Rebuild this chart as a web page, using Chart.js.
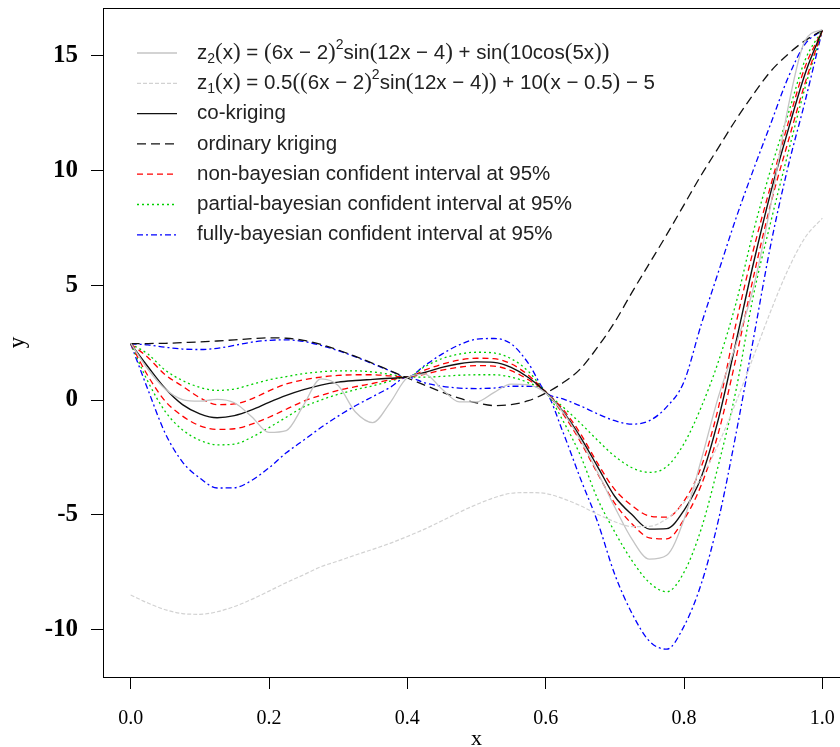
<!DOCTYPE html>
<html>
<head>
<meta charset="utf-8">
<script src="https://cdn.jsdelivr.net/npm/chart.js@4.4.1/dist/chart.umd.min.js"></script>
<style>
  html, body { margin: 0; padding: 0; background: #fff; overflow: hidden; }
  #wrap { width: 860px; height: 747px; }
</style>
</head>
<body>
<div id="wrap"><canvas id="chart" width="860" height="747"></canvas></div>
<script>
// x positions shared by every curve
const xs = [0, 0.025, 0.05, 0.075, 0.1, 0.125, 0.15, 0.175, 0.2, 0.225,
            0.25, 0.275, 0.3, 0.325, 0.35, 0.375, 0.4, 0.425, 0.45, 0.475,
            0.5, 0.525, 0.55, 0.575, 0.6, 0.625, 0.65, 0.675, 0.7, 0.725,
            0.75, 0.775, 0.8, 0.825, 0.85, 0.875, 0.9, 0.925, 0.95, 0.975, 1];

const z2 = [2.48, 1.34, 0.48, 0.02, -0.05, 0.03, -0.12, -0.73, -1.41, -1.33,
            -0.22, 0.92, 0.63, -0.52, -0.98, -0.12, 0.97, 1.13, 0.48, -0.08,
            -0.08, 0.32, 0.69, 0.66, 0.31, -0.53, -1.72, -3.14, -4.67, -6.07,
            -6.93, -6.76, -5.2, -2.6, 0.17, 2.4, 4.85, 8.43, 12.67, 15.65, 16.13];

const z1 = [-8.49, -8.84, -9.13, -9.3, -9.33, -9.22, -8.99, -8.68, -8.32, -7.95,
            -7.61, -7.26, -7.01, -6.75, -6.5, -6.24, -5.94, -5.62, -5.26, -4.89,
            -4.55, -4.26, -4.06, -4.03, -4.07, -4.29, -4.6, -4.97, -5.3, -5.51,
            -5.5, -5.17, -4.47, -3.38, -1.9, -0.11, 1.86, 3.84, 5.65, 7.07, 7.92];

const coKriging = [2.45, 1.45, 0.5, -0.2, -0.6, -0.77, -0.68, -0.43, -0.1, 0.2,
                   0.45, 0.65, 0.78, 0.85, 0.9, 0.95, 1.0, 1.2, 1.42, 1.58,
                   1.66, 1.64, 1.42, 0.98, 0.35, -0.5, -1.6, -2.9, -4.2, -5.0,
                   -5.62, -5.6, -4.8, -3.35, -0.8, 2.5, 5.9, 9.0, 11.7, 14.2, 16.1];

const ordKriging = [2.45, 2.46, 2.47, 2.5, 2.53, 2.57, 2.62, 2.67, 2.71, 2.69,
                    2.6, 2.42, 2.18, 1.9, 1.6, 1.28, 0.96, 0.65, 0.35, 0.08,
                    -0.12, -0.24, -0.2, -0.03, 0.3, 0.75, 1.35, 2.3, 3.4, 4.7,
                    5.95, 7.2, 8.5, 9.8, 11.0, 12.2, 13.3, 14.3, 15.05, 15.65, 16.1];

const nonBayesUp = [2.45, 1.85, 1.1, 0.6, 0.1, -0.2, -0.17, 0.05, 0.4, 0.7,
                    0.88, 1.0, 1.07, 1.1, 1.1, 1.05, 1.0, 1.3, 1.56, 1.74,
                    1.82, 1.8, 1.58, 1.08, 0.35, -0.4, -1.45, -2.75, -3.9, -4.6,
                    -5.05, -5.1, -4.4, -2.9, -0.3, 3.3, 6.5, 9.3, 12.0, 14.5, 16.1];

const nonBayesLow = [2.45, 1.05, -0.05, -0.7, -1.12, -1.28, -1.25, -1.05, -0.75, -0.4,
                     -0.05, 0.2, 0.42, 0.58, 0.72, 0.88, 1.0, 1.12, 1.3, 1.43,
                     1.5, 1.48, 1.28, 0.88, 0.35, -0.6, -1.8, -3.2, -4.5, -5.4,
                     -6.0, -6.05, -5.2, -3.7, -1.4, 1.8, 5.3, 8.5, 11.2, 13.8, 16.1];

const partialUp = [2.45, 2.0, 1.3, 0.85, 0.55, 0.42, 0.48, 0.68, 0.88, 1.02,
                   1.15, 1.23, 1.27, 1.27, 1.22, 1.12, 1.0, 1.45, 1.8, 2.0,
                   2.08, 2.05, 1.8, 1.25, 0.35, -0.3, -1.0, -1.75, -2.45, -2.95,
                   -3.15, -2.9, -1.9, -0.3, 1.7, 4.2, 7.3, 10.0, 12.4, 14.8, 16.1];

const partialLow = [2.45, 0.8, -0.5, -1.3, -1.75, -1.95, -1.92, -1.62, -1.2, -0.75,
                    -0.3, 0.0, 0.25, 0.45, 0.62, 0.82, 1.0, 1.0, 1.03, 1.08,
                    1.1, 1.1, 1.0, 0.75, 0.35, -0.9, -2.4, -4.3, -5.75, -7.0,
                    -7.95, -8.35, -7.5, -5.6, -2.8, 0.4, 4.5, 7.7, 10.7, 13.6, 16.1];

const fullyUp = [2.45, 2.4, 2.3, 2.22, 2.2, 2.25, 2.38, 2.52, 2.6, 2.62,
                 2.55, 2.38, 2.15, 1.88, 1.58, 1.27, 1.0, 1.5, 2.0, 2.4,
                 2.65, 2.68, 2.45, 1.6, 0.35, 0.05, -0.25, -0.6, -0.9, -1.05,
                 -0.9, -0.3, 0.8, 3.3, 5.6, 7.9, 10.0, 12.0, 14.0, 15.5, 16.1];

const fullyLow = [2.45, 0.45, -1.45, -2.7, -3.4, -3.83, -3.82, -3.5, -2.95, -2.3,
                  -1.75, -1.2, -0.7, -0.25, 0.15, 0.55, 1.0, 0.75, 0.6, 0.52,
                  0.5, 0.52, 0.6, 0.6, 0.35, -1.4, -3.4, -5.3, -7.6, -9.3,
                  -10.5, -10.85, -9.85, -8.0, -5.2, -1.5, 2.6, 6.7, 10.1, 13.0, 16.1];

const seriesNames = [
  'z_2(x) = (6x − 2)^2sin(12x − 4) + sin(10cos(5x))',
  'z_1(x) = 0.5((6x − 2)^2sin(12x − 4)) + 10(x − 0.5) − 5',
  'co-kriging',
  'ordinary kriging',
  'non-bayesian confident interval at 95%',
  'partial-bayesian confident interval at 95%',
  'fully-bayesian confident interval at 95%'
];

const xTicks = [0, 0.2, 0.4, 0.6, 0.8, 1.0];
const xTickLabels = ['0.0', '0.2', '0.4', '0.6', '0.8', '1.0'];
const yTicks = [-10, -5, 0, 5, 10, 15];
const yTickLabels = ['-10', '-5', '0', '5', '10', '15'];

function pts(ys) {
    return xs.map((x, i) => ({x: x, y: ys[i]}));
}

function line(label, ys, color, dash, width) {
    return {
        label: label,
        data: pts(ys),
        borderColor: color,
        borderDash: dash,
        borderWidth: width || 1.3,
        pointRadius: 0,
        fill: false,
        cubicInterpolationMode: 'monotone'
    };
}

const DASHED = [9, 5];
const RED_DASH = [6, 4];
const DOTTED = [2, 3];
const DOTDASH = [6, 3, 2, 3];

const datasets = [
    line(seriesNames[0], z2, '#c4c4c4', [], 1.3),
    line(seriesNames[1], z1, '#d2d2d2', [4, 2], 1.2),
    line(seriesNames[2], coKriging, '#111111', [], 1.4),
    line(seriesNames[3], ordKriging, '#111111', DASHED, 1.3),
    line(seriesNames[4], nonBayesUp, '#ff0000', RED_DASH),
    line(seriesNames[4], nonBayesLow, '#ff0000', RED_DASH),
    line(seriesNames[5], partialUp, '#00d000', DOTTED),
    line(seriesNames[5], partialLow, '#00d000', DOTTED),
    line(seriesNames[6], fullyUp, '#0000ff', DOTDASH),
    line(seriesNames[6], fullyLow, '#0000ff', DOTDASH)
];

// which dataset gives the line sample for each legend row
const legendSource = [0, 1, 2, 3, 4, 6, 8];

function drawRich(ctx, text, x, y) {
    ctx.save();
    ctx.fillStyle = '#222';
    ctx.textBaseline = 'middle';
    let i = 0;
    while (i < text.length) {
        let ch = text[i], font = '20.5px "Liberation Sans", Arial, sans-serif', dy = 0;
        if ((ch === '_' || ch === '^') && i + 1 < text.length) {
            font = '14px "Liberation Sans", Arial, sans-serif';
            dy = ch === '_' ? 6 : -8;
            i++;
            ch = text[i];
        } else if (ch === '(' || ch === ')') {
            font = '23px "Liberation Serif", serif';
        }
        ctx.font = font;
        ctx.fillText(ch, x, y + dy);
        x += ctx.measureText(ch).width;
        i++;
    }
    ctx.restore();
}

const framePlugin = {
    id: 'frame',
    afterDraw(chart) {
        const ctx = chart.ctx, a = chart.chartArea;
        ctx.save();
        ctx.strokeStyle = '#000';
        ctx.lineWidth = 1;
        ctx.strokeRect(a.left + 0.5, a.top + 0.5, a.right - a.left, a.bottom - a.top);
        ctx.restore();
    }
};

const legendPlugin = {
    id: 'legendInPlot',
    afterDraw(chart) {
        const ctx = chart.ctx, a = chart.chartArea;
        const x0 = a.left + 34, y0 = a.top + 45, gap = 30.3;
        legendSource.forEach((dsIndex, i) => {
            const ds = chart.data.datasets[dsIndex];
            const y = y0 + i * gap;
            ctx.save();
            ctx.strokeStyle = ds.borderColor;
            ctx.lineWidth = ds.borderWidth;
            ctx.setLineDash(ds.borderDash || []);
            ctx.beginPath();
            ctx.moveTo(x0, y);
            ctx.lineTo(x0 + 40, y);
            ctx.stroke();
            ctx.restore();
            drawRich(ctx, seriesNames[i], x0 + 60, y);
        });
    }
};

const config = {
    type: 'line',
    data: { datasets: datasets },
    options: {
        responsive: false,
        animation: false,
        layout: { padding: { top: 8, right: 10, left: 0, bottom: 0 } },
        plugins: {
            legend: { display: false },
            tooltip: { enabled: false }
        },
        scales: {
            x: {
                type: 'linear',
                min: -0.04,
                max: 1.04,
                afterBuildTicks: s => { s.ticks = xTicks.map(v => ({value: v})); },
                afterFit: s => { s.height = 70; s.paddingLeft = 0; s.paddingRight = 0; },
                border: { display: false },
                grid: { drawOnChartArea: false, drawTicks: true, tickLength: 12, color: '#000' },
                ticks: {
                    padding: 18,
                    color: '#000',
                    maxRotation: 0,
                    autoSkip: false,
                    font: { family: '"Liberation Serif", "Times New Roman", serif', size: 20 },
                    callback: v => xTickLabels[xTicks.indexOf(v)]
                },
                title: {
                    display: true,
                    text: 'x',
                    color: '#000',
                    padding: { top: 0, bottom: -3 },
                    font: { family: '"Liberation Serif", "Times New Roman", serif', size: 22, lineHeight: 1 }
                }
            },
            y: {
                type: 'linear',
                min: -12.06,
                max: 17.07,
                afterBuildTicks: s => { s.ticks = yTicks.map(v => ({value: v})); },
                afterFit: s => { s.width = 103; s.paddingTop = 0; s.paddingBottom = 0; },
                border: { display: false },
                grid: { drawOnChartArea: false, drawTicks: true, tickLength: 12, color: '#000' },
                ticks: {
                    padding: 13,
                    color: '#000',
                    autoSkip: false,
                    font: { family: '"Liberation Serif", "Times New Roman", serif', size: 25, weight: 'bold' },
                    callback: v => yTickLabels[yTicks.indexOf(v)]
                },
                title: {
                    display: true,
                    text: 'y',
                    color: '#000',
                    padding: { top: 4, bottom: 0 },
                    font: { family: '"Liberation Serif", "Times New Roman", serif', size: 23 }
                }
            }
        }
    },
    plugins: [framePlugin, legendPlugin]
};

new Chart(document.getElementById('chart'), config);
</script>
</body>
</html>
